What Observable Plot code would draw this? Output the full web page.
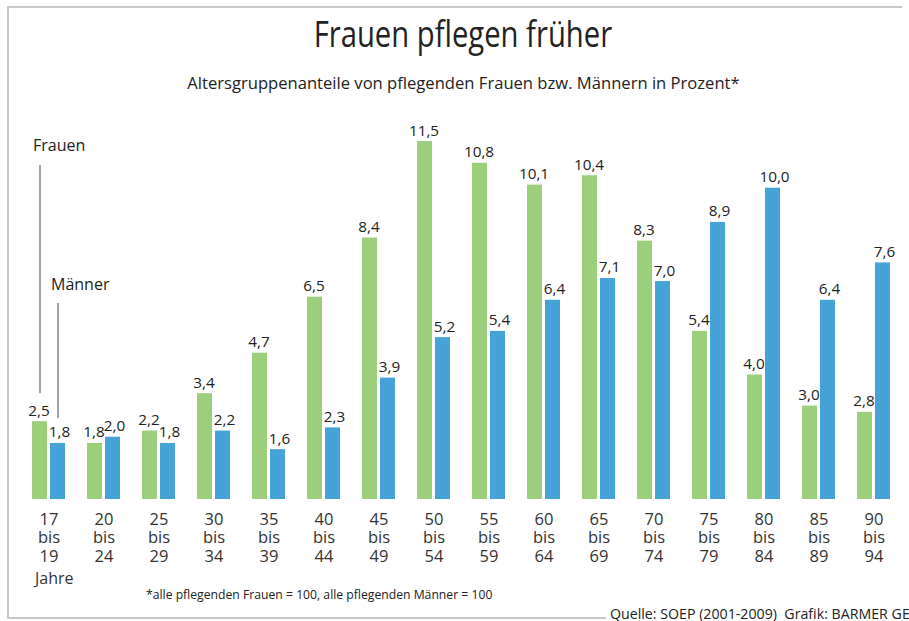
<!DOCTYPE html>
<html>
<head>
<meta charset="utf-8">
<script src="https://cdn.jsdelivr.net/npm/d3@7"></script>
<script src="https://cdn.jsdelivr.net/npm/@observablehq/plot@0.6"></script>
<style>
  html, body { margin: 0; padding: 0; background: #fff; }
  body { font-family: "Open Sans", "Noto Sans", sans-serif; color: #222; }
  #wrap { position: relative; width: 909px; height: 621px; overflow: hidden; background: #fff; }
  #frame { position: absolute; left: 7px; top: 6px; width: 893px; height: 609px;
           border-left: 2px solid #c8c8c8; border-top: 2px solid #c8c8c8; border-bottom: 2px solid #c8c8c8; }
  #chart { position: absolute; left: 0; top: 0; }
  #title { position: absolute; left: 8px; width: 909px; top: 14px; text-align: center;
           font-size: 37px; line-height: 1; color: #222; white-space: nowrap; }
  #title span { display: inline-block; transform: scaleX(0.79); transform-origin: center; }
  #subtitle { position: absolute; left: 0; width: 927px; top: 71px; text-align: center;
              font-size: 16.6px; color: #222; white-space: nowrap; }
  #jahre { position: absolute; left: 35px; top: 567px; font-size: 16px; color: #333; }
  #note { position: absolute; left: 146px; top: 586px; font-size: 12.2px; color: #222; white-space: nowrap; }
  #source { position: absolute; left: 606px; top: 604px; font-size: 14.2px; color: #222;
            background: #fff; padding-left: 4px; white-space: nowrap; }
</style>
</head>
<body>
<div id="wrap">
  <div id="frame"></div>
  <div id="chart"></div>
  <div id="title"><span>Frauen pflegen früher</span></div>
  <div id="subtitle">Altersgruppenanteile von pflegenden Frauen bzw. Männern in Prozent*</div>
  <div id="jahre">Jahre</div>
  <div id="note">*alle pflegenden Frauen = 100, alle pflegenden Männer = 100</div>
  <div id="source">Quelle: SOEP (2001-2009)&nbsp; Grafik: BARMER GEK</div>
</div>
<script>
const ageGroups = ["17 bis 19", "20 bis 24", "25 bis 29", "30 bis 34", "35 bis 39", "40 bis 44",
  "45 bis 49", "50 bis 54", "55 bis 59", "60 bis 64", "65 bis 69", "70 bis 74",
  "75 bis 79", "80 bis 84", "85 bis 89", "90 bis 94"];
const series = ["Frauen", "Männer"];
const frauen  = [2.5, 1.8, 2.2, 3.4, 4.7, 6.5, 8.4, 11.5, 10.8, 10.1, 10.4, 8.3, 5.4, 4.0, 3.0, 2.8];
const maenner = [1.8, 2.0, 1.8, 2.2, 1.6, 2.3, 3.9, 5.2, 5.4, 6.4, 7.1, 7.0, 8.9, 10.0, 6.4, 7.6];
const colors = ["#9ccf7c", "#45a3d8"];

// annotation leader lines for the first age group (in percent units)
const annotSeries = ["Frauen", "Männer"];
const annotLabelY = [11.35, 6.9];
const annotLineTop = [10.73, 6.3];
const annotLineBottom = [3.4, 2.6];

const data = [];
ageGroups.forEach((g, i) => {
  data.push({group: g, series: "Frauen", value: frauen[i]});
  data.push({group: g, series: "Männer", value: maenner[i]});
});
const annot = annotSeries.map((s, i) => ({
  group: ageGroups[0], series: s, label: s,
  labelY: annotLabelY[i], top: annotLineTop[i], bottom: annotLineBottom[i]
}));

const fmt = v => v.toFixed(1).replace(".", ",");

const chart = Plot.plot({
  width: 909,
  height: 621,
  marginTop: 141,
  marginBottom: 122,
  marginLeft: 19,
  marginRight: 6,
  style: {fontFamily: "'Open Sans', 'Noto Sans', sans-serif", background: "transparent"},
  fx: {domain: ageGroups, padding: 0, label: null},
  x: {domain: series, paddingInner: 0.158, paddingOuter: 0.533, axis: null},
  y: {domain: [0, 11.5], axis: null},
  color: {domain: series, range: colors},
  marks: [
    Plot.barY(data, {fx: "group", x: "series", y: "value", fill: "series"}),
    Plot.text(data.filter(d => d.series === "Frauen"), {
      fx: "group", x: "series", y: "value", text: d => fmt(d.value),
      lineAnchor: "bottom", dy: -6, dx: -1, fontSize: 15.3, fontWeight: 500, fill: "#222"
    }),
    Plot.text(data.filter(d => d.series === "Männer"), {
      fx: "group", x: "series", y: "value", text: d => fmt(d.value),
      lineAnchor: "bottom", dy: -6, dx: 1.5, fontSize: 15.3, fontWeight: 500, fill: "#222"
    }),
    Plot.ruleX(annot, {fx: "group", x: "series", y1: "bottom", y2: "top", stroke: "#7d848c", strokeWidth: 1.5}),
    Plot.text(annot, {
      fx: "group", x: "series", y: "labelY", text: "label",
      textAnchor: "start", dx: -7, fontSize: 16, fill: "#222"
    }),
    Plot.axisFx({
      anchor: "bottom", label: null, tickSize: 0, tickPadding: 12,
      tickFormat: d => d.replace(/ /g, "\n"), fontSize: 16.5, lineHeight: 1.12, fill: "#333"
    })
  ]
});
document.getElementById("chart").appendChild(chart);
</script>
</body>
</html>
